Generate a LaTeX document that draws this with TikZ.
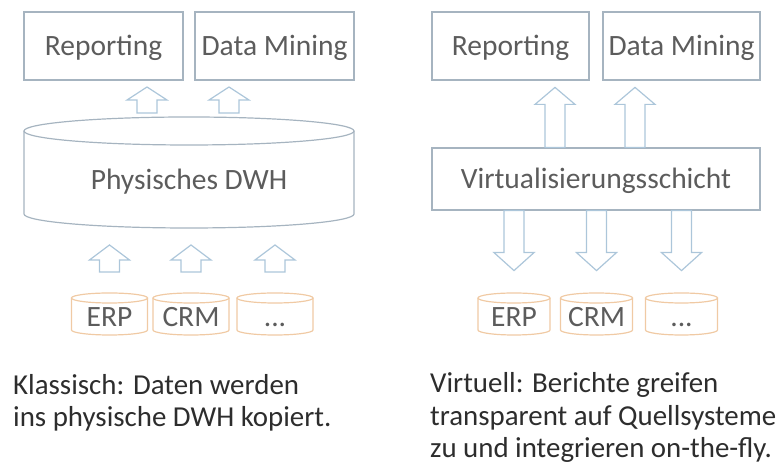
\documentclass[tikz,border=0pt]{standalone}
\usepackage{fontspec}
\setmainfont{Carlito}
\definecolor{boxline}{RGB}{166,180,192}
\definecolor{arrowline}{RGB}{172,198,218}
\definecolor{srcline}{RGB}{240,202,164}
\definecolor{labeltext}{RGB}{92,92,92}
\definecolor{captext}{RGB}{45,45,45}

\begin{document}
\begin{tikzpicture}[x=1bp, y=1bp]
    \tikzset{
        label font/.style={font=\fontsize{29.6}{32}\selectfont, text=labeltext,
            text height=19bp, text depth=0pt, inner sep=0pt},
        box/.style={draw=boxline, line width=1.2bp, label font},
        caption/.style={font=\fontsize{29}{33}\selectfont, text=captext,
            align=left, anchor=base west, inner sep=0pt},
        pics/blockarrow/.style args={#1/#2}{code={
            \draw[draw=arrowline, line width=1.2bp, line join=miter]
                (-10,0) -- (-10,#1-#2) -- (-20,#1-#2) -- (0,#1)
                -- (20,#1-#2) -- (10,#1-#2) -- (10,0) -- cycle;
        }},
        pics/drum/.style args={#1/#2/#3}{code={
            \draw[pic actions] (-#1,#2) -- (-#1,-#2)
                arc[start angle=180, end angle=360, x radius=#1, y radius=#3]
                -- (#1,#2);
            \draw[pic actions] (0,#2) ellipse[x radius=#1, y radius=#3];
        }},
    }
    \useasboundingbox (0,0) rectangle (784,466);

    % Left: classic data warehouse
    \node[box, minimum width=159bp, minimum height=68bp] (rep1) at (103.5,420) {Reporting};
    \node[box, minimum width=159bp, minimum height=68bp] (mine1) at (274.5,420) {Data Mining};
    \pic[draw=boxline, line width=1.2bp] at (189,293.5) {drum=165/41.5/14};
    \node[label font] (dwh) at (189,285.5) {Physisches DWH};
    \pic at (147,353) {blockarrow=26/13};
    \pic at (229,353) {blockarrow=26/13};

    \node[label font] (erp1) at (109.5,149) {ERP};
    \node[label font] (crm1) at (191,149) {CRM};
    \node[label font] (more1) at (275,149) {...};
    \pic[draw=srcline, line width=1.2bp] at ([yshift=3bp]erp1.center) {drum=38/16/5};
    \pic[draw=srcline, line width=1.2bp] at ([yshift=3bp]crm1.center) {drum=38/16/5};
    \pic[draw=srcline, line width=1.2bp] at ([yshift=3bp]more1.center) {drum=38/16/5};
    \pic at (erp1 |- 0,194) {blockarrow=27/15};
    \pic at (crm1 |- 0,194) {blockarrow=27/15};
    \pic at (more1 |- 0,194) {blockarrow=27/15};

    % base anchor sits on the last line
    \node[caption] (capL) at (13,39) {Klassisch: Daten werden\\ins physische DWH kopiert.};

    % Right: virtual layer
    \node[box, minimum width=157bp, minimum height=68bp] (rep2) at (510.5,420) {Reporting};
    \node[box, minimum width=157bp, minimum height=68bp] (mine2) at (681.5,420) {Data Mining};
    \node[box, minimum width=328bp, minimum height=62bp] (layer) at (596,287) {Virtualisierungsschicht};
    \pic at ([xshift=-41bp]layer.north) {blockarrow=60/17};
    \pic at ([xshift=39bp]layer.north) {blockarrow=60/17};

    \node[label font] (erp2) at (514,149) {ERP};
    \node[label font] (crm2) at (596.5,149) {CRM};
    \node[label font] (more2) at (681.5,149) {...};
    \pic[draw=srcline, line width=1.2bp] at ([yshift=3bp]erp2.center) {drum=36/16/5};
    \pic[draw=srcline, line width=1.2bp] at ([yshift=3bp]crm2.center) {drum=36/16/5};
    \pic[draw=srcline, line width=1.2bp] at ([yshift=3bp]more2.center) {drum=36/16/5};
    \pic[rotate=180] at (erp2 |- layer.south) {blockarrow=60/18};
    \pic[rotate=180] at (crm2 |- layer.south) {blockarrow=60/18};
    \pic[rotate=180] at (more2 |- layer.south) {blockarrow=60/18};

    \node[caption] (capR) at (430,8) {Virtuell: Berichte greifen\\transparent auf Quellsysteme\\zu und integrieren on-the-fly.};
\end{tikzpicture}
\end{document}
